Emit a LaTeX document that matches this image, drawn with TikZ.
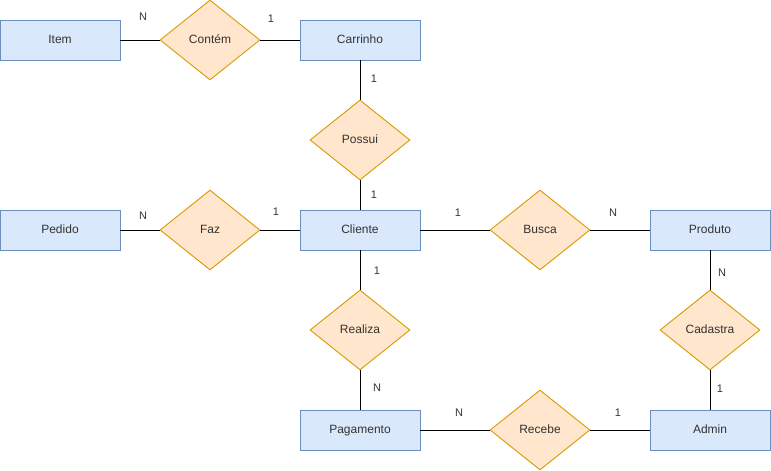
\documentclass[tikz,border=0pt]{standalone}
\usepackage{fontspec}
\setmainfont{Liberation Sans}
\usetikzlibrary{shapes.geometric}
\definecolor{entfill}{HTML}{DAE8FC}
\definecolor{entdraw}{HTML}{6C8EBF}
\definecolor{relfill}{HTML}{FFE6CC}
\definecolor{reldraw}{HTML}{D79B00}
\definecolor{txt}{HTML}{333333}
\begin{document}
\begin{tikzpicture}[x=1pt,y=-1pt,
  entity/.style={draw=entdraw,fill=entfill,line width=0.9pt,minimum width=120pt,minimum height=40pt,inner sep=0pt,font=\fontsize{12}{14}\selectfont,text=txt,text height=9pt,text depth=3pt},
  rel/.style={diamond,draw=reldraw,fill=relfill,line width=0.9pt,minimum width=100pt,minimum height=80pt,inner sep=0pt,aspect=1.25,font=\fontsize{12}{14}\selectfont,text=txt,text height=9pt,text depth=3pt},
  card/.style={font=\fontsize{11}{13}\selectfont,text=txt,inner sep=0pt},
  conn/.style={line width=0.9pt,black}]
\useasboundingbox (0,0) rectangle (771,471);
\node[entity] (item) at (60,40) {Item};
\node[entity] (carr) at (360,40) {Carrinho};
\node[entity] (ped) at (60,230) {Pedido};
\node[entity] (cli) at (360,230) {Cliente};
\node[entity] (prod) at (710,230) {Produto};
\node[entity] (pag) at (360,430) {Pagamento};
\node[entity] (adm) at (710,430) {Admin};
\node[rel] (cont) at (210,40) {Contém};
\node[rel] (poss) at (360,140) {Possui};
\node[rel] (faz) at (210,230) {Faz};
\node[rel] (busca) at (540,230) {Busca};
\node[rel] (real) at (360,330) {Realiza};
\node[rel] (cad) at (710,330) {Cadastra};
\node[rel] (rec) at (540,430) {Recebe};
\draw[conn] (item) -- (cont);
\draw[conn] (cont) -- (carr);
\draw[conn] (carr) -- (poss);
\draw[conn] (poss) -- (cli);
\draw[conn] (ped) -- (faz);
\draw[conn] (faz) -- (cli);
\draw[conn] (cli) -- (busca);
\draw[conn] (busca) -- (prod);
\draw[conn] (cli) -- (real);
\draw[conn] (real) -- (pag);
\draw[conn] (prod) -- (cad);
\draw[conn] (cad) -- (adm);
\draw[conn] (pag) -- (rec);
\draw[conn] (rec) -- (adm);
\node[card] (c1) at (143,17) {N};
\node[card] (c2) at (271,19) {1};
\node[card] (c3) at (374,79) {1};
\node[card] (c4) at (374,195) {1};
\node[card] (c5) at (143,216) {N};
\node[card] (c6) at (276,212) {1};
\node[card] (c7) at (458,213) {1};
\node[card] (c8) at (613,213) {N};
\node[card] (c9) at (377,271) {1};
\node[card] (c10) at (377,388) {N};
\node[card] (c11) at (722,273) {N};
\node[card] (c12) at (720,389) {1};
\node[card] (c13) at (459,413) {N};
\node[card] (c14) at (618,413) {1};
\end{tikzpicture}
\end{document}
